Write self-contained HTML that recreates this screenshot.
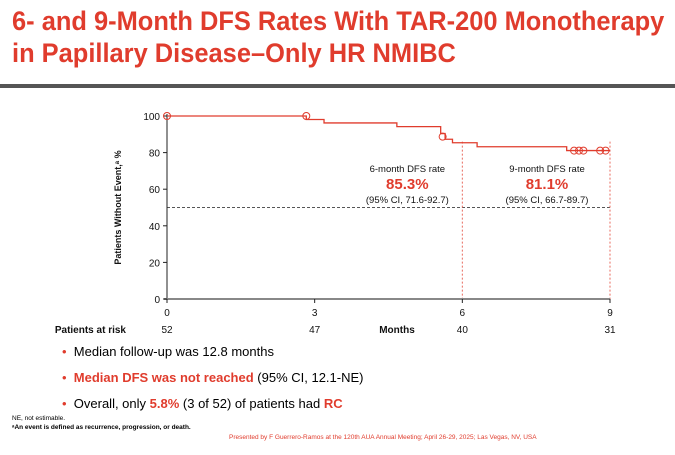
<!DOCTYPE html>
<html><head><meta charset="utf-8"><style>
body{margin:0;width:675px;height:455px;background:#fff;font-family:"Liberation Sans",sans-serif;position:relative;overflow:hidden}
.t{position:absolute;white-space:nowrap}
.red{color:#e03c2d}
</style></head><body>
<div class="t red" style="left:12px;top:5px;font-size:26.5px;font-weight:bold;line-height:32px;transform:scaleX(0.96);transform-origin:0 0">6- and 9-Month DFS Rates With TAR-200 Monotherapy<br>in Papillary Disease–Only HR NMIBC</div>
<div style="position:absolute;left:0;top:84px;width:675px;height:4px;background:#555"></div>
<svg id="c" width="675" height="455" style="position:absolute;left:0;top:0"></svg>
<div class="t" style="left:62px;top:344px;font-size:13px"><span class="red">•</span>&nbsp; Median follow-up was 12.8 months</div>
<div class="t" style="left:62px;top:370px;font-size:13px"><span class="red">•</span>&nbsp; <b class="red">Median DFS was not reached</b> (95% CI, 12.1-NE)</div>
<div class="t" style="left:62px;top:396px;font-size:13px"><span class="red">•</span>&nbsp; Overall, only <b class="red">5.8%</b> (3 of 52) of patients had <b class="red">RC</b></div>
<div class="t" style="left:12px;top:415px;font-size:6.5px">NE, not estimable.</div>
<div class="t" style="left:12px;top:424px;font-size:6.5px;font-weight:bold">ᵃAn event is defined as recurrence, progression, or death.</div>
<div class="t red" style="left:229px;top:434px;font-size:6.5px">Presented by F Guerrero-Ramos at the 120th AUA Annual Meeting; April 26-29, 2025; Las Vegas, NV, USA</div>
<script>
const stepTimes=[0,2.83,3.19,4.67,5.56,5.65,5.8,6.3,8.12,9];
const stepValues=[100,98.1,96.2,94.2,90.4,87.3,85.4,83.2,81.1,81.1];
const censorTimes=[0,2.83,5.6,8.27,8.37,8.46,8.8,8.91];
const censorValues=[100,100,88.7,81.1,81.1,81.1,81.1,81.1];
const xTicks=[0,3,6,9];
const yTicks=[0,20,40,60,80,100];
const atRisk=[52,47,40,31];
const NS="http://www.w3.org/2000/svg";
const svg=document.getElementById('c');
const X=t=>167+t*(610-167)/9;
const Y=v=>299-v*(299-116)/100;
function el(tag,a,name){const e=document.createElementNS(NS,tag);for(const k in a)e.setAttribute(k,a[k]);


svg.appendChild(e);return e;}
function txt(x,y,s,attrs,name){const e=el('text',Object.assign({x:x,y:y,'font-family':'Liberation Sans, sans-serif','font-size':10,fill:'#111'},attrs),name);e.textContent=s;return e;}
el('line',{x1:X(0),x2:X(9),y1:Y(50),y2:Y(50),stroke:'#555','stroke-dasharray':'3,2','stroke-width':1},'median-line');
el('line',{x1:X(6),x2:X(6),y1:Y(86),y2:Y(0),stroke:'#e86a5e','stroke-dasharray':'2,2','stroke-width':1},'6-month-line');
el('line',{x1:X(9),x2:X(9),y1:Y(86),y2:Y(0),stroke:'#e86a5e','stroke-dasharray':'2,2','stroke-width':1},'9-month-line');
el('line',{x1:X(0),x2:X(0),y1:Y(0),y2:Y(100)-2,stroke:'#222','stroke-width':1},'y-axis');
el('line',{x1:X(0)-3,x2:X(9),y1:Y(0),y2:Y(0),stroke:'#888','stroke-width':2},'x-axis');
yTicks.forEach(v=>{el('line',{x1:X(0)-4,x2:X(0),y1:Y(v),y2:Y(v),stroke:'#222'},'y-tick');
txt(X(0)-7,Y(v)+4,v,{'text-anchor':'end'},'y-tick-label');});
xTicks.forEach((t,i)=>{el('line',{x1:X(t),x2:X(t),y1:Y(0),y2:Y(0)+4,stroke:'#222'},'x-tick');
txt(X(t),Y(0)+17,t,{'text-anchor':'middle'},'x-tick-label');
txt(X(t),Y(0)+34,atRisk[i],{'text-anchor':'middle'},'at-risk-value');});
txt(126,Y(0)+34,'Patients at risk',{'text-anchor':'end','font-weight':'bold'},'at-risk-label');
txt(397,Y(0)+34,'Months',{'text-anchor':'middle','font-weight':'bold'},'x-axis-title');
txt(0,0,'Patients Without Event,ᵃ %',{'text-anchor':'middle','font-weight':'bold','font-size':9,transform:`translate(121,${Y(50)}) rotate(-90)`},'y-axis-title');
let d=`M${X(stepTimes[0])},${Y(stepValues[0])}`;
for(let i=1;i<stepTimes.length;i++){d+=`H${X(stepTimes[i])}`;if(i<stepTimes.length-1||stepValues[i]!==stepValues[i-1])d+=`V${Y(stepValues[i])}`;}
el('path',{d:d,fill:'none',stroke:'#e03c2d','stroke-width':1.3},'km-curve');
censorTimes.forEach((t,i)=>el('circle',{cx:X(t),cy:Y(censorValues[i]),r:3.5,fill:'none',stroke:'#e03c2d','stroke-width':1},'censor-mark'));
[[6,'6-month DFS rate','85.3%','(95% CI, 71.6-92.7)',X(6)-55],[9,'9-month DFS rate','81.1%','(95% CI, 66.7-89.7)',X(9)-63]].forEach(a=>{
txt(a[4],172,a[1],{'text-anchor':'middle','font-size':9.5},'dfs-label');
txt(a[4],189,a[2],{'text-anchor':'middle','font-size':15,'font-weight':'bold',fill:'#e03c2d'},'dfs-rate');
txt(a[4],203,a[3],{'text-anchor':'middle','font-size':9.5},'dfs-ci');});
</script>
</body></html>
